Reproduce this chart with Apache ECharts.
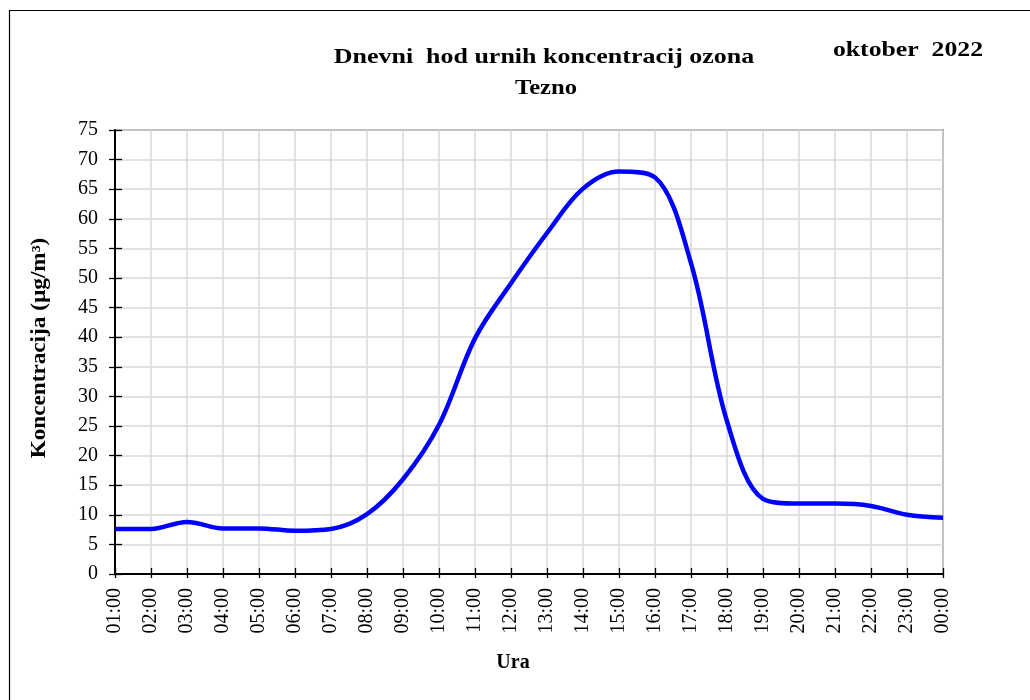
<!DOCTYPE html>
<html><head><meta charset="utf-8">
<script src="https://cdn.jsdelivr.net/npm/echarts@6/dist/echarts.min.js"></script>
<style>html,body{margin:0;padding:0;background:#fff}#c{width:1030px;height:700px}</style>
</head><body><div id="c"></div>
<script>
const hours = ['01:00','02:00','03:00','04:00','05:00','06:00','07:00','08:00','09:00','10:00','11:00','12:00','13:00','14:00','15:00','16:00','17:00','18:00','19:00','20:00','21:00','22:00','23:00','00:00'];
const ozone = [7.6,7.6,8.8,7.7,7.7,7.3,7.6,10.1,16.0,25.2,39.8,49.1,57.6,65.1,68.0,67.0,52.5,25.8,12.7,11.9,11.9,11.5,10.0,9.5];
const yTicks = {min:0, max:75, interval:5};
const titleText = 'Dnevni  hod urnih koncentracij ozona';
const subtitleText = 'Tezno';
const dateText = 'oktober  2022';
const yName = 'Koncentracija (µg/m³)';
const xName = 'Ura';

const FF = 'Liberation Serif';
function txt(text, x, y, size, sx, rot){
  return {type:'text', x:x, y:y, scaleX:sx||1, rotation:rot||0, silent:true, z:10,
    style:{text:text, fontFamily:FF, fontWeight:'bold', fontSize:size, fill:'#000',
           align:'center', verticalAlign:'middle', textAlign:'center', textVerticalAlign:'middle'}};
}
const chart = echarts.init(document.getElementById('c'), null, {renderer:'canvas'});
chart.setOption({
  backgroundColor:'#fff',
  animation:false,
  graphic:[
    {type:'rect', shape:{x:9.5,y:10.5,width:1030,height:700}, style:{fill:null, stroke:'#000', lineWidth:1.2}, silent:true},
    txt(titleText, 544, 57, 22, 1.18),
    txt(subtitleText, 546, 88, 22, 1.12),
    txt(dateText, 908, 50, 22, 1.17),
    txt(yName, 40, 348, 20, 1.16, Math.PI/2),
    txt(xName, 513, 663, 20, 1.0)
  ],
  grid:{left:115, right:87, top:130, bottom:126, show:true, borderColor:'#808080', borderWidth:2, containLabel:false},
  xAxis:[
    {type:'category', data:hours, boundaryGap:false,
     axisLine:{show:true, lineStyle:{color:'#000', width:2}},
     axisTick:{show:true, inside:false, length:4, alignWithLabel:true, lineStyle:{color:'#000', width:1.3}},
     axisLabel:{rotate:90, interval:0, margin:14, fontFamily:FF, fontSize:20, color:'#000'},
     splitLine:{show:true, interval:0, lineStyle:{color:'#d9d9d9', width:1.5}}},
    {type:'category', data:hours, boundaryGap:false, position:'top', offset:-444,
     axisLine:{show:false}, axisLabel:{show:false}, splitLine:{show:false},
     axisTick:{show:true, inside:false, length:6, interval:0, lineStyle:{color:'#000', width:1.3}}}
  ],
  yAxis:[
    {type:'value', min:yTicks.min, max:yTicks.max, interval:yTicks.interval,
     axisLine:{show:true, lineStyle:{color:'#000', width:2}},
     axisTick:{show:true, inside:false, length:6, lineStyle:{color:'#000', width:1.3}},
     axisLabel:{margin:17, fontFamily:FF, fontSize:20, color:'#000'},
     splitLine:{show:true, lineStyle:{color:'#d9d9d9', width:1.5}}},
    {type:'value', min:yTicks.min, max:yTicks.max, interval:yTicks.interval, position:'right', offset:-828,
     axisLine:{show:false}, axisLabel:{show:false}, splitLine:{show:false},
     axisTick:{show:true, inside:false, length:7, lineStyle:{color:'#000', width:1.3}}}
  ],
  series:[
    {type:'line', data:ozone, xAxisIndex:0, yAxisIndex:0, smooth:0.35, showSymbol:false, symbol:'none',
     lineStyle:{color:'#0000ff', width:4.5}, z:5}
  ]
});
</script></body></html>
